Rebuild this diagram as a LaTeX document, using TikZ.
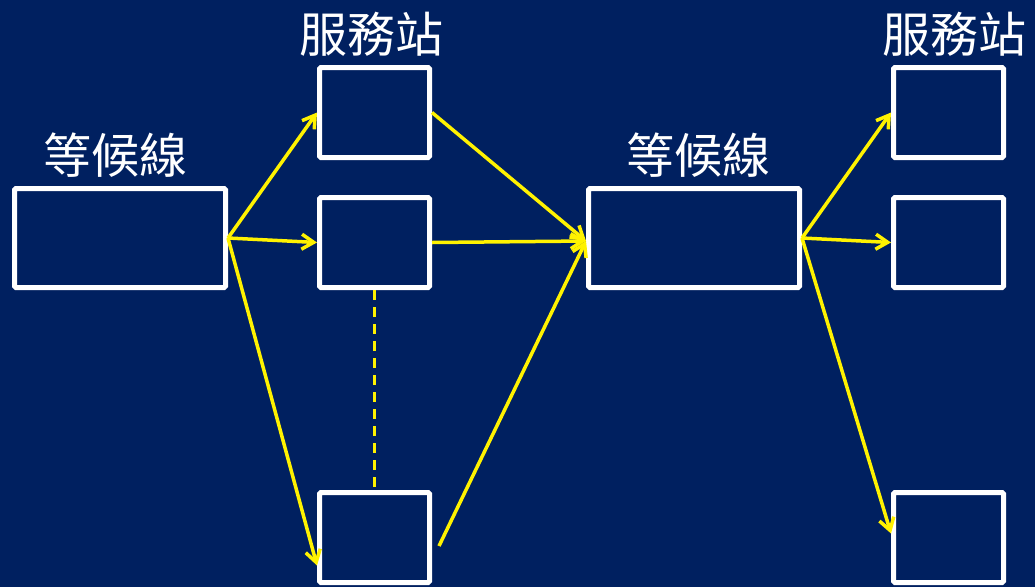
\documentclass[tikz,border=0pt]{standalone}
\usepackage{fontspec}
\newfontfamily\cjk{Noto Sans CJK TC}
\usetikzlibrary{arrows.meta}
\definecolor{bgnavy}{RGB}{0,32,96}
\tikzset{
  box/.style={draw=white, line width=5pt, rounded corners=1.5pt, inner sep=0pt},
  srv/.style={box, minimum width=110pt, minimum height=90pt},
  que/.style={box, minimum width=211pt, minimum height=99pt},
  flow/.style={draw=yellow, line width=3.5pt, -{Straight Barb[length=12pt,width=15pt,line width=3.5pt]}},
  plainflow/.style={draw=yellow, line width=3.5pt},
  lbl/.style={text=white, font=\cjk\fontsize{48}{48}\selectfont, inner sep=0pt}
}
\begin{document}
\begin{tikzpicture}[x=1pt,y=-1pt]
\fill[bgnavy] (0,0) rectangle (1035,587);
\useasboundingbox (0,0) rectangle (1035,587);
% nodes
\node[que] (q1) at (120,238) {};
\node[que] (q2) at (694,238) {};
\node[srv] (s1) at (374.5,112.5) {};
\node[srv] (s2) at (374.5,242.5) {};
\node[srv] (s3) at (374.5,537.5) {};
\node[srv] (r1) at (948.5,112.5) {};
\node[srv] (r2) at (948.5,242.5) {};
\node[srv] (r3) at (948.5,537.5) {};
% labels
\node[lbl] (t1) at (371,34) {服務站};
\node[lbl] (t2) at (954,34) {服務站};
\node[lbl] (t3) at (115,155) {等候線};
\node[lbl] (t4) at (698,155) {等候線};
\coordinate (free) at (439,546);
% connectors
\draw[flow] (q1.east) -- (s1.west);
\draw[flow] (q1.east) -- (s2.west);
\draw[flow] (q1.east) -- ([yshift=-28pt]s3.west);
\draw[flow] (s1.east) -- ([yshift=-3pt]q2.west);
\draw[flow] (s2.east) -- ([yshift=-3pt]q2.west);
\draw[flow] (free) -- ([yshift=-3pt]q2.west);
\draw[plainflow, dash pattern=on 10pt off 7pt] (s2.south) -- (s3.north);
\draw[flow] (q2.east) -- (r1.west);
\draw[flow] (q2.east) -- (r2.west);
\draw[flow] (q2.east) -- ([yshift=4pt]r3.west);
\end{tikzpicture}
\end{document}
